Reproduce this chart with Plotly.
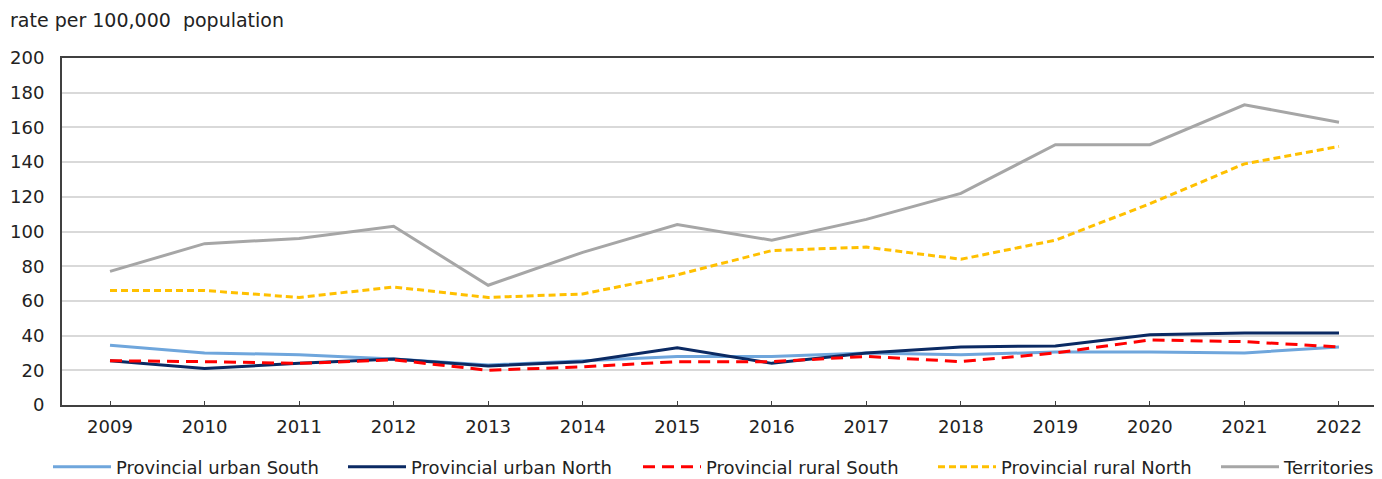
import plotly.graph_objects as go

years = [2009, 2010, 2011, 2012, 2013, 2014, 2015, 2016, 2017, 2018, 2019, 2020, 2021, 2022]

urban_south = [34.5, 30, 29, 26.5, 23, 25.5, 28, 28, 30, 29, 30.5, 30.5, 30, 33.5]
urban_north = [25.5, 21, 24, 26.5, 22.5, 25, 33, 24, 30, 33.5, 34, 40.5, 41.5, 41.5]
rural_south = [25.5, 25, 24, 26, 20, 22, 25, 25, 28, 25, 30, 37.5, 36.5, 33.5]
rural_north = [66, 66, 62, 68, 62, 64, 75, 89, 91, 84, 95, 116, 139, 149]
territories = [77, 93, 96, 103, 69, 88, 104, 95, 107, 122, 150, 150, 173, 163]

y_ticks = [0, 20, 40, 60, 80, 100, 120, 140, 160, 180, 200]

FONT = "DejaVu Sans"
TXT = "#222222"

series = [
    ("Provincial urban South", urban_south, "#6fa6dc", "solid", "legend"),
    ("Provincial urban North", urban_north, "#0b2a63", "solid", "legend"),
    ("Provincial rural South", rural_south, "#ff0000", "12px,7px", "legend"),
    ("Provincial rural North", rural_north, "#ffc000", "7px,4px", "legend"),
    ("Territories", territories, "#a6a6a6", "solid", "legend2"),
]

fig = go.Figure()
for name, vals, color, dash, lg in series:
    fig.add_trace(go.Scatter(
        x=years, y=vals, name=name, mode="lines", legend=lg,
        line=dict(color=color, width=3, dash=dash),
    ))

# page has an 8px body margin; figure sized so it fills the 1382x479 view
W, H = 1374, 471
ML, MT, MB = 54, 50, 74
PW = W - ML
PH = H - MT - MB
OFF = 8
PLOT_LEFT_PAGE = OFF + ML
PLOT_BOTTOM_PAGE = OFF + H - MB

leg_y = -(467 - PLOT_BOTTOM_PAGE) / PH
legend_font = dict(family=FONT, size=18, color=TXT)
IW = 58

fig.update_layout(
    width=W, height=H,
    margin=dict(l=ML, r=0, t=MT, b=MB, autoexpand=False),
    paper_bgcolor="white", plot_bgcolor="white",
    font=dict(family=FONT, size=18, color=TXT),
    title=dict(text="rate per 100,000  population", x=2/W, xanchor="left",
               xref="container", yref="container", y=1-12/H, yanchor="middle",
               font=dict(family=FONT, size=19, color=TXT)),
    showlegend=True,
    legend=dict(orientation="h", x=(48-PLOT_LEFT_PAGE)/PW, xanchor="left",
                y=leg_y, yanchor="middle", font=legend_font,
                entrywidth=222, entrywidthmode="pixels",
                itemwidth=IW, tracegroupgap=0, bgcolor="rgba(0,0,0,0)"),
    legend2=dict(orientation="h", x=(1216-PLOT_LEFT_PAGE)/PW, xanchor="left",
                 y=leg_y, yanchor="middle", font=legend_font,
                 itemwidth=IW, bgcolor="rgba(0,0,0,0)"),
    xaxis=dict(
        range=[2008.492, 2022.455],
        tickmode="array", tickvals=years, ticktext=[str(y) for y in years],
        showgrid=False, zeroline=False,
        showline=True, linecolor="#404040", linewidth=2, mirror=True,
        ticks="inside", ticklen=4, tickcolor="#404040", tickwidth=1,
        ticklabelstandoff=4,
        tickfont=dict(family=FONT, size=18, color=TXT),
        fixedrange=True,
    ),
    yaxis=dict(
        range=[0, 200], tickmode="array", tickvals=y_ticks,
        showgrid=True, gridcolor="#d9d9d9", gridwidth=1.5,
        zeroline=False, showline=True, linecolor="#404040", linewidth=2,
        ticks="", ticklabelstandoff=12,
        tickfont=dict(family=FONT, size=18, color=TXT),
        fixedrange=True,
    ),
)

fig.write_html("out.html")
